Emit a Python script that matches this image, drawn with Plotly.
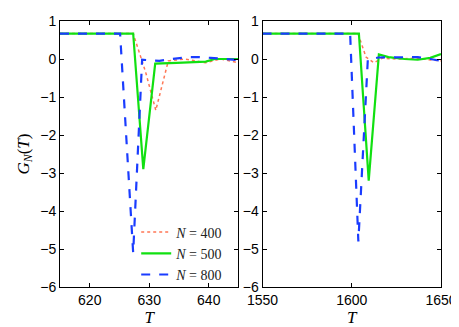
import plotly.graph_objects as go
from plotly.subplots import make_subplots

# left panel data
t_left_400 = [615, 627.3, 629.4, 631.1, 633.2, 636, 639.5, 642, 645]
g_left_400 = [0.67, 0.67, -0.35, -1.35, -0.05, 0.0, -0.1, 0.0, -0.1]
t_left_500 = [615, 627.3, 629.0, 631.0, 634.6, 639.5, 641, 645]
g_left_500 = [0.67, 0.67, -2.9, -0.12, -0.1, -0.07, 0.0, 0.0]
t_left_800 = [615, 625.1, 627.3, 628.8, 631.7, 633.7, 636.5, 638.5, 640.3, 642.7, 645]
g_left_800 = [0.67, 0.67, -5.1, -0.02, -0.05, 0.0, 0.05, 0.05, 0.03, -0.01, -0.03]

# right panel data
t_right_400 = [1550, 1603.5, 1608, 1612.5, 1617, 1625, 1635, 1645, 1650]
g_right_400 = [0.67, 0.67, 0.05, -0.1, 0.02, 0.0, 0.02, -0.02, -0.05]
t_right_500 = [1550, 1604.0, 1609.5, 1615.2, 1620.6, 1629.6, 1636.9, 1644, 1650]
g_right_500 = [0.67, 0.67, -3.2, 0.12, 0.05, 0.0, -0.02, 0.03, 0.13]
t_right_800 = [1550, 1599.1, 1603.7, 1609.0, 1615, 1622, 1630, 1637, 1644, 1650]
g_right_800 = [0.67, 0.67, -4.8, -0.02, 0.04, 0.04, 0.04, 0.05, 0.0, -0.05]

red = "#ff7755"
green = "#11e011"
blue = "#1a3cff"

fig = make_subplots(rows=1, cols=2, horizontal_spacing=0.063)

series = [
    ("<i>N</i> = 400", t_left_400, g_left_400, t_right_400, g_right_400, red, "dot", 1.5),
    ("<i>N</i> = 500", t_left_500, g_left_500, t_right_500, g_right_500, green, "solid", 2.2),
    ("<i>N</i> = 800", t_left_800, g_left_800, t_right_800, g_right_800, blue, "dash", 2.2),
]
for name, tl, gl, tr, gr, col, dash, w in series:
    fig.add_trace(go.Scatter(x=tl, y=gl, mode="lines", name=name,
                             line=dict(color=col, dash=dash, width=w)), row=1, col=1)
    fig.add_trace(go.Scatter(x=tr, y=gr, mode="lines", name=name, showlegend=False,
                             line=dict(color=col, dash=dash, width=w)), row=1, col=2)

axis_style = dict(showline=True, linecolor="black", linewidth=1, mirror="ticks",
                  ticks="inside", ticklen=4, tickcolor="black", showgrid=False,
                  zeroline=False, automargin=False,
                  tickfont=dict(family="Liberation Sans", size=14, color="black"))

fig.update_xaxes(**axis_style)
fig.update_yaxes(**axis_style)
fig.update_xaxes(range=[615, 645], tickvals=[620, 630, 640], row=1, col=1,
                 title=dict(text="<i>T</i>", font=dict(family="Liberation Serif", size=17), standoff=2))
fig.update_xaxes(range=[1550, 1650], tickvals=[1550, 1600, 1650], row=1, col=2,
                 title=dict(text="<i>T</i>", font=dict(family="Liberation Serif", size=17), standoff=2))
fig.update_yaxes(range=[-6, 1], dtick=1, row=1, col=1,
                 title=dict(text="<i>G<sub>N</sub></i>(<i>T</i>)",
                            font=dict(family="Liberation Serif", size=17), standoff=6))
fig.update_yaxes(range=[-6, 1], dtick=1, row=1, col=2)

# the page body adds an 8px margin, so the figure is 8px smaller each way
fig.update_layout(
    width=451, height=319,
    margin=dict(l=52, r=18, t=13, b=40),
    font=dict(color="black"),
    plot_bgcolor="white", paper_bgcolor="white",
    legend=dict(x=0.2, y=0.265, xanchor="left", yanchor="top", bgcolor="rgba(0,0,0,0)",
                font=dict(family="Liberation Serif", size=14, color="#222222"),
                tracegroupgap=0, itemwidth=30),
)

fig.write_html("out.html")
